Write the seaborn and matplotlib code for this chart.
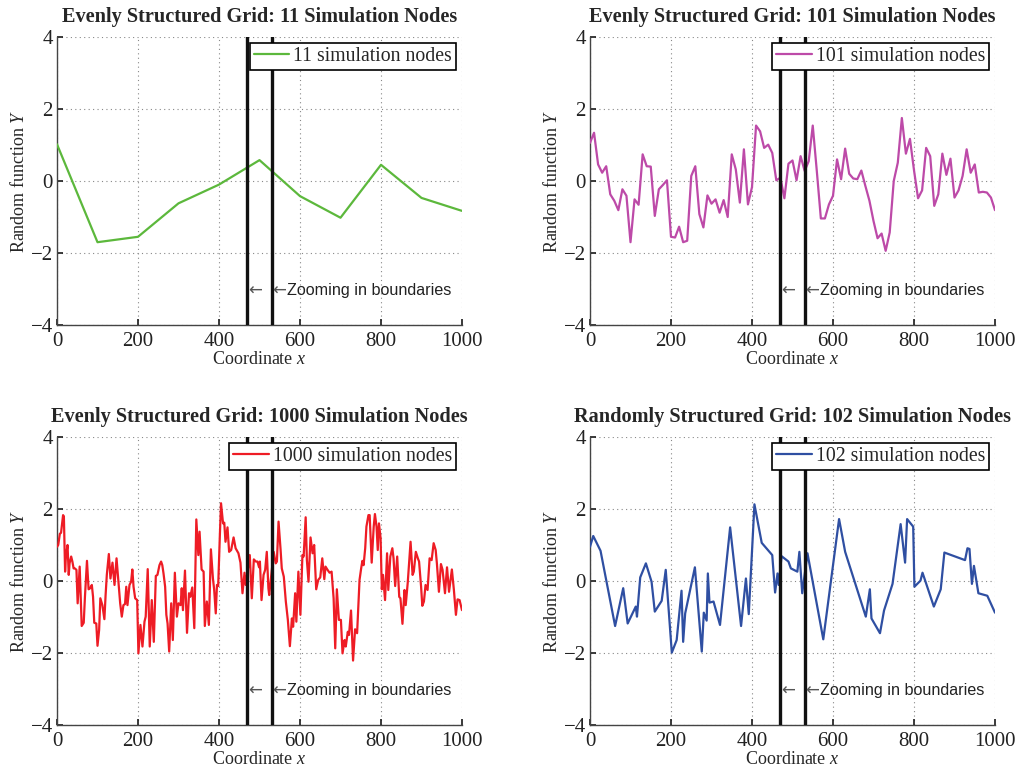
import numpy as np
import pandas as pd
import matplotlib
matplotlib.use("Agg")
import matplotlib.pyplot as plt
import seaborn as sns

# ---- data -------------------------------------------------------------
x11 = [0, 100, 200, 300, 400, 500, 600, 700, 800, 900, 1000]
y11 = [1.02, -1.70, -1.55, -0.62, -0.10, 0.58, -0.42, -1.02, 0.45, -0.47, -0.83]

y101 = [1.06, 1.34, 0.46, 0.23, 0.41, -0.37, -0.55, -0.81, -0.23, -0.41,
        -1.70, -0.51, -0.66, 0.74, 0.41, 0.40, -0.97, -0.23, -0.11, 0.02,
        -1.55, -1.57, -1.27, -1.70, -1.66, 0.14, 0.41, -0.92, -1.29, -0.40,
        -0.63, -0.51, -0.88, -0.53, -1.00, 0.74, 0.32, -0.60, 0.88, -0.65,
        -0.17, 1.54, 1.38, 0.92, 1.01, 0.78, 0.02, 0.09, -0.48, 0.48,
        0.57, 0.02, 0.69, 0.28, 0.55, 1.54, 0.28, -1.04, -1.04, -0.65,
        -0.41, 0.60, 0.05, 0.90, 0.20, 0.07, 0.05, 0.29, -0.14, -0.55,
        -1.11, -1.59, -1.46, -1.94, -1.43, 0.00, 0.51, 1.75, 0.76, 1.17,
        0.30, -0.48, -0.26, 0.92, 0.69, -0.69, -0.37, 0.76, 0.17, 0.62,
        -0.46, -0.26, 0.14, 0.88, 0.23, 0.46, -0.32, -0.30, -0.32, -0.46,
        -0.81]
x101 = list(range(0, 1001, 10))

x1000 = [0, 3, 7, 10, 15, 17, 20, 22, 26, 29, 31, 35, 38, 41, 44, 48, 51, 56,
         61, 66, 69, 74, 78, 82, 86, 89, 92, 97, 100, 104, 107, 112, 117, 120,
         123, 128, 132, 137, 142, 147, 151, 156, 160, 164, 168, 171, 174, 179,
         183, 186, 189, 193, 198, 201, 206, 211, 216, 219, 224, 229, 234, 239,
         244, 248, 253, 257, 260, 263, 267, 270, 273, 277, 282, 286, 291, 296,
         300, 305, 308, 311, 316, 321, 326, 329, 334, 339, 344, 349, 352, 357,
         362, 365, 370, 375, 380, 385, 388, 392, 395, 398, 402, 405, 410, 413,
         416, 421, 425, 430, 436, 441, 448, 453, 458, 463, 466, 476, 481, 486,
         491, 495, 499, 501, 505, 510, 514, 518, 522, 524, 535, 540, 543, 547,
         552, 555, 560, 565, 570, 575, 580, 583, 588, 591, 596, 601, 606, 609,
         614, 617, 621, 626, 631, 635, 640, 645, 650, 655, 660, 663, 668, 673,
         678, 683, 687, 691, 696, 701, 705, 710, 713, 718, 721, 726, 731, 736,
         741, 744, 747, 751, 754, 757, 761, 764, 769, 772, 777, 782, 785, 789,
         792, 795, 799, 802, 805, 810, 815, 818, 823, 828, 831, 835, 840, 845,
         848, 853, 858, 861, 866, 873, 878, 881, 886, 891, 894, 899, 902, 906,
         910, 915, 920, 925, 930, 935, 938, 943, 948, 952, 958, 963, 968, 975,
         980, 985, 989, 994, 1000]
y1000 = [0.95, 1.00, 1.31, 1.34, 1.83, 1.79, 0.26, 0.68, 1.00, 0.17, 0.49,
         0.68, 0.54, 0.35, 0.35, 0.31, -0.62, 0.40, -1.25, -1.16, -0.44, 0.56,
         -0.23, -0.20, -0.11, -0.44, -1.16, -1.18, -1.80, -1.36, -0.48, -0.67,
         -1.06, -0.39, 0.17, 0.75, 0.07, 0.51, -0.11, 0.63, 0.07, -0.62, -0.99,
         -0.67, -0.64, -0.16, -0.67, -0.11, -0.02, 0.32, -0.16, -0.48, -0.53,
         -2.01, -1.22, -1.82, -1.13, -0.99, 0.33, -1.82, -0.53, -1.69, 0.14,
         0.17, 0.44, 0.54, 0.44, 0.21, -0.16, -0.94, -1.18, -1.96, -0.62, -1.64,
         0.23, -0.99, -0.62, -0.67, -0.20, -0.81, 0.29, -1.44, -0.34, -0.44,
         -0.18, -1.31, 1.71, 0.72, 1.37, 0.32, 0.26, -1.25, -0.57, -1.22, 0.88,
         0.07, -0.23, -0.90, -0.11, -0.14, 1.23, 2.16, 1.60, 1.62, 1.09, 1.49,
         0.81, 0.86, 1.21, 0.91, 0.77, 0.51, -0.34, 0.23, -0.11, 0.72, -0.48,
         0.60, 0.54, 0.54, 0.38, 0.54, -0.53, 0.17, 0.31, 0.81, -0.20, -0.39,
         0.81, 0.49, 0.54, 1.65, 0.88, 0.35, 0.12, -0.57, -1.08, -1.81, -1.04,
         -1.27, -0.34, -1.13, 0.26, -0.94, 0.72, 0.68, 1.77, 0.58, -0.02, 1.21,
         0.77, 1.00, -0.23, 0.03, 0.10, 0.63, 0.05, 0.40, 0.31, 0.23, 0.26,
         -0.48, -1.87, -0.23, -1.08, -1.08, -2.01, -1.64, -1.82, -1.41, -1.50,
         -0.82, -2.21, -1.34, -1.45, -0.71, 0.03, 0.35, 0.56, 0.44, 0.91, 1.51,
         1.83, 1.83, 0.51, 1.51, 1.86, 1.51, 0.86, 1.60, 1.19, -0.23, 0.17,
         -0.53, 0.77, -0.25, 0.68, 0.91, 0.63, -0.14, 0.68, -0.44, -0.48, -1.19,
         -0.25, -0.67, -0.05, 1.09, 0.17, 0.26, 0.81, 0.63, 0.54, -0.16, -0.69,
         -0.57, -0.11, -0.25, 0.63, 0.58, 1.05, 0.86, 0.49, -0.30, 0.47, 0.31,
         -0.34, 0.38, -0.30, 0.32, -0.25, -0.94, -0.51, -0.53, -0.81]

x102 = [0, 8, 26, 62, 82, 93, 113, 116, 124, 138, 152, 160, 177, 187, 202,
        214, 226, 230, 235, 259, 276, 281, 288, 291, 295, 305, 321, 346, 373,
        385, 392, 406, 424, 450, 457, 463, 466, 473, 490, 496, 512, 517, 524,
        537, 576, 615, 630, 681, 691, 695, 716, 726, 747, 767, 778, 783, 798,
        801, 816, 821, 827, 849, 866, 875, 926, 932, 937, 943, 948, 959, 981,
        1000]
y102 = [0.95, 1.25, 0.84, -1.25, -0.20, -1.18, -0.71, -0.99, 0.10, 0.49,
        -0.02, -0.85, -0.55, 0.31, -1.99, -1.64, -0.27, -1.69, -0.90, 0.38,
        -1.96, -0.88, -1.10, 0.21, -0.60, -0.57, -1.22, 1.49, -1.25, 0.07,
        -0.92, 2.13, 1.06, 0.72, -0.32, 0.21, -0.11, 0.69, 0.54, 0.35, 0.26,
        0.81, -0.34, 0.77, -1.62, 1.72, 0.81, -0.99, -0.23, -1.04, -1.45,
        -0.82, -0.08, 1.58, 0.51, 1.72, 1.51, -0.16, 0.01, 0.23, 0.03, -0.71,
        -0.23, 0.79, 0.58, 0.91, 0.89, -0.08, 0.42, -0.34, -0.41, -0.88]

titles = ["Evenly Structured Grid: 11 Simulation Nodes",
          "Evenly Structured Grid: 101 Simulation Nodes",
          "Evenly Structured Grid: 1000 Simulation Nodes",
          "Randomly Structured Grid: 102 Simulation Nodes"]
labels = ["11 simulation nodes", "101 simulation nodes",
          "1000 simulation nodes", "102 simulation nodes"]
colors = ["#5cb83c", "#bd4aa8", "#ee1c25", "#2f4fa2"]
bounds = [470, 530]
note = "Zooming in boundaries"

# ---- style ------------------------------------------------------------
sns.set_theme(style="ticks")
plt.rcParams["font.family"] = ["Liberation Serif", "DejaVu Serif"]
plt.rcParams["mathtext.fontset"] = "custom"
plt.rcParams["mathtext.it"] = "Liberation Serif:italic"
plt.rcParams["mathtext.rm"] = "Liberation Serif"

fig = plt.figure(figsize=(10.17, 7.70), dpi=100)
W, H = 1017, 770
boxes = [(57, 37), (590, 37), (57, 437), (590, 437)]
aw, ah = 405, 288

series = [(x11, y11), (x101, y101), (x1000, y1000), (x102, y102)]

for k, ((px, py), (xs, ys)) in enumerate(zip(boxes, series)):
    ax = fig.add_axes([px / W, 1 - (py + ah) / H, aw / W, ah / H])
    df = pd.DataFrame({"x": xs, "y": ys})
    sns.lineplot(data=df, x="x", y="y", ax=ax, color=colors[k], linewidth=1.6,
                 sort=False, estimator=None, label=labels[k], zorder=3)
    for b in bounds:
        ax.axvline(b, color="#111111", linewidth=2.4, zorder=4)
    # arrows pointing at the two boundary lines, followed by the note
    ax.text(bounds[0] + 1, -3.05, "\u2190", family="DejaVu Sans",
            fontsize=12, color="#555555", va="center", ha="left", zorder=5)
    ax.text(bounds[1] + 1, -3.05, "\u2190", family="DejaVu Sans",
            fontsize=12, color="#555555", va="center", ha="left", zorder=5)
    ax.text(bounds[1] + 38, -3.05, note, family="Liberation Sans",
            fontsize=11.6, color="#222222", va="center", ha="left", zorder=5)

    ax.set_xlim(0, 1000)
    ax.set_ylim(-4, 4)
    ax.set_xticks(np.arange(0, 1001, 200))
    ax.set_yticks([-4, -2, 0, 2, 4])
    ax.grid(True, linestyle=(0, (1, 3)), color="#888888", linewidth=0.8)
    ax.tick_params(direction="in", length=4, labelsize=15, colors="#222222")
    ax.tick_params(axis="x", pad=5)
    ax.tick_params(axis="y", pad=3)
    for s in ["top", "right"]:
        ax.spines[s].set_visible(False)
    for s in ["left", "bottom"]:
        ax.spines[s].set_color("#444444")
        ax.spines[s].set_linewidth(1.0)
    ax.set_xlabel("Coordinate $x$", fontsize=13, labelpad=0)
    ax.set_ylabel("Random function $Y$", fontsize=13, labelpad=2)
    ax.set_title(titles[k], fontsize=14.6, fontweight="bold", pad=11)
    leg = ax.legend(loc="upper right", fontsize=14.2, frameon=True,
                    fancybox=False, borderpad=0.2, handlelength=1.8,
                    handletextpad=0.2, borderaxespad=0.3)
    leg.get_frame().set_edgecolor("black")
    leg.get_frame().set_linewidth(1.2)
    leg.get_frame().set_alpha(1)

fig.savefig("out.png", dpi=100)
